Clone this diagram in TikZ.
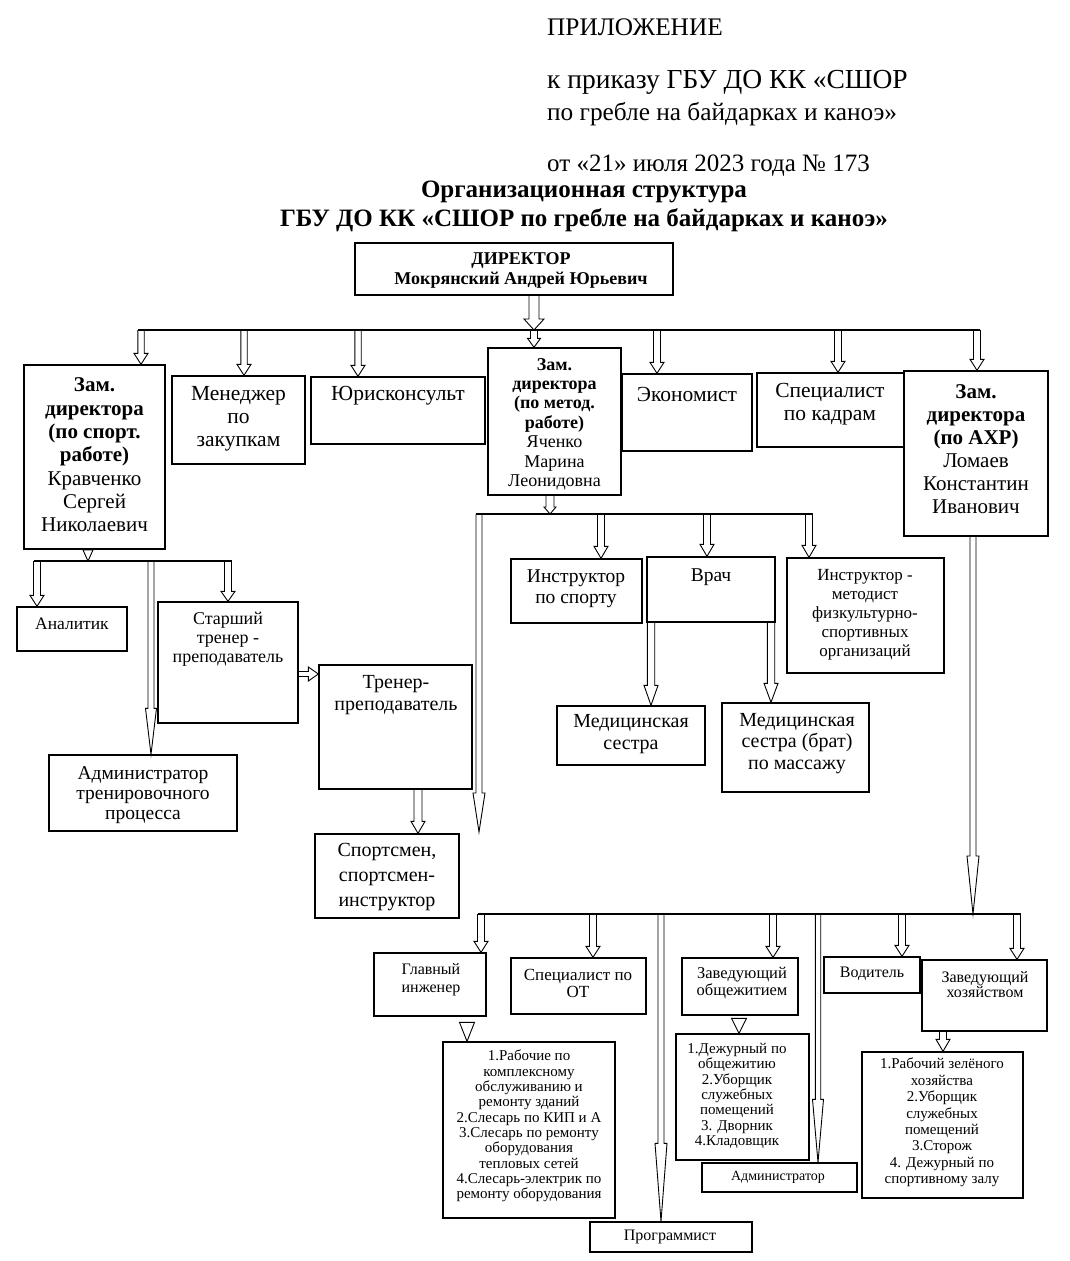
\documentclass[tikz,border=0pt]{standalone}
\usepackage{fontspec}
\setmainfont{Liberation Serif}
\usetikzlibrary{calc,fit}
\newcommand{\fsz}[2]{\fontsize{#1pt}{#2pt}\selectfont}
\tikzset{
  box/.style={draw, line width=1.3pt, inner sep=0pt},
  txt/.style={align=center, inner sep=0pt},
  arr/.style={draw, line width=0.9pt, line join=miter},
  bus/.style={draw, line width=1.1pt},
}
% box from corners
\newcommand{\mkbox}[5]{\path (#2,#3) coordinate (#1-a) (#4,#5) coordinate (#1-b);
  \node[box, fit=(#1-a)(#1-b)] (#1) {};}
% hollow block arrow downwards: start, end, shaft half, head length, head half
\newcommand{\darr}[5]{\path[arr] let \p1=(#1), \p2=(#2) in
  (\x1-#3,\y1) -- (\x1-#3,\y2+#4) -- (\x1-#5,\y2+#4) -- (\x1,\y2) --
  (\x1+#5,\y2+#4) -- (\x1+#3,\y2+#4) -- (\x1+#3,\y1);}
% hollow triangle pointing down: start (x), end (tip), height, half width
\newcommand{\tarr}[4]{\path[arr] let \p1=(#1), \p2=(#2) in
  (\x1-#4,\y2+#3) -- (\x1,\y2) -- (\x1+#4,\y2+#3) -- cycle;}
% hollow block arrow to the right
\newcommand{\rarr}[5]{\path[arr] let \p1=(#1), \p2=(#2) in
  (\x1,\y1+#3) -- (\x2-#4,\y1+#3) -- (\x2-#4,\y1+#5) -- (\x2,\y1) --
  (\x2-#4,\y1-#5) -- (\x2-#4,\y1-#3) -- (\x1,\y1-#3);}

\begin{document}
\begin{tikzpicture}[x=1pt,y=-1pt]
\fill[white] (0,0) rectangle (1069,1261);
\path[use as bounding box] (0,0) rectangle (1069,1261);

% ---------- header ----------
\node[txt, anchor=west, font=\fsz{25.3}{30}] (h1) at (547,27) {ПРИЛОЖЕНИЕ};
\node[txt, anchor=west, font=\fsz{27.5}{30}] (h2) at (547,82) {к приказу ГБУ ДО КК «СШОР};
\node[txt, anchor=west, font=\fsz{25.3}{30}] (h3) at (547,114) {по гребле на байдарках и каноэ»};
\node[txt, anchor=west, font=\fsz{25}{30}] (h4) at (547,166) {от «21» июля 2023 года № 173};
\node[txt, font=\bfseries\fsz{25}{28}] (t1) at (584,192) {Организационная структура};
\node[txt, font=\bfseries\fsz{25}{28}] (t2) at (584,220) {ГБУ ДО КК «СШОР по гребле на байдарках и каноэ»};

% ---------- boxes ----------
\mkbox{dir}{355}{243}{673}{295}
\mkbox{zs}{24}{365}{165}{549}
\mkbox{mz}{172}{376}{305}{464}
\mkbox{jur}{311}{377}{485}{444}
\mkbox{zm}{488}{348}{621}{495}
\mkbox{eco}{622}{374}{752}{451}
\mkbox{kad}{757}{373}{904}{447}
\mkbox{zx}{904}{371}{1048}{536}
\mkbox{an}{17}{607}{127}{651}
\mkbox{st}{158}{602}{298}{723}
\mkbox{adm}{49}{755}{237}{831}
\mkbox{tp}{319}{665}{472}{789}
\mkbox{sp}{315}{834}{459}{918}
\mkbox{is}{511}{559}{642}{623}
\mkbox{vr}{647}{557}{775}{622}
\mkbox{im}{787}{558}{944}{673}
\mkbox{ms}{557}{706}{705}{765}
\mkbox{mb}{722}{703}{869}{792}
\mkbox{gi}{374}{953}{486}{1016}
\mkbox{ot}{511}{958}{646}{1014}
\mkbox{zo}{682}{958}{798}{1015}
\mkbox{vo}{824}{957}{920}{993}
\mkbox{zh}{922}{960}{1047}{1031}
\mkbox{l1}{443}{1042}{615}{1218}
\mkbox{l2}{676}{1034}{809}{1160}
\mkbox{l3}{862}{1052}{1023}{1198}
\mkbox{ad2}{702}{1163}{857}{1192}
\mkbox{pr}{590}{1222}{752}{1252}

% ---------- texts ----------
\node[txt, font=\bfseries\fsz{18}{20}] (dirt) at (521,270) {ДИРЕКТОР\\Мокрянский Андрей Юрьевич};
\node[txt, font=\fsz{21}{23.3}] (zst) at (94.5,455) {\textbf{Зам.}\\\textbf{директора}\\\textbf{(по спорт.}\\\textbf{работе)}\\Кравченко\\Сергей\\Николаевич};
\node[txt, font=\fsz{21.5}{23}] (mzt) at (238.5,419) {Менеджер\\по\\закупкам};
\node[txt, font=\fsz{21.5}{23}] (jurt) at (398,396) {Юрисконсульт};
\node[txt, font=\fsz{18}{19.4}] (zmt) at (554.5,424) {\textbf{Зам.}\\\textbf{директора}\\\textbf{(по метод.}\\\textbf{работе)}\\Яченко\\Марина\\Леонидовна};
\node[txt, font=\fsz{21.5}{23}] (ecot) at (687,394) {Экономист};
\node[txt, font=\fsz{21.5}{23}] (kadt) at (830,404.5) {Специалист\\по кадрам};
\node[txt, font=\fsz{21}{23}] (zxt) at (976,449.5) {\textbf{Зам.}\\\textbf{директора}\\\textbf{(по АХР)}\\Ломаев\\Константин\\Иванович};
\node[txt, font=\fsz{17.5}{19}] (ant) at (72,624) {Аналитик};
\node[txt, font=\fsz{18}{19}] (stt) at (228,639) {Старший\\тренер -\\преподаватель};
\node[txt, font=\fsz{19.5}{20}] (admt) at (143,795) {Администратор\\тренировочного\\процесса};
\node[txt, font=\fsz{20}{22}] (tpt) at (396,695) {Тренер-\\преподаватель};
\node[txt, font=\fsz{20}{25}] (spt) at (387,877) {Спортсмен,\\спортсмен-\\инструктор};
\node[txt, font=\fsz{19.5}{21}] (ist) at (576,588.5) {Инструктор\\по спорту};
\node[txt, font=\fsz{19.5}{21}] (vrt) at (711,577) {Врач};
\node[txt, font=\fsz{17}{19}] (imt) at (865,615) {Инструктор -\\методист\\физкультурно-\\спортивных\\организаций};
\node[txt, font=\fsz{20}{22}] (mst) at (631,734) {Медицинская\\сестра};
\node[txt, font=\fsz{20}{21.5}] (mbt) at (797,743.5) {Медицинская\\сестра (брат)\\по массажу};
\node[txt, font=\fsz{16}{18}] (git) at (431,980) {Главный\\инженер};
\node[txt, font=\fsz{17}{17}] (ott) at (578,983.5) {Специалист по\\ОТ};
\node[txt, font=\fsz{16.5}{17}] (zot) at (742,983.5) {Заведующий\\общежитием};
\node[txt, font=\fsz{16}{17}] (vot) at (872,974) {Водитель};
\node[txt, font=\fsz{16}{15}] (zht) at (985,984.5) {Заведующий\\хозяйством};
\node[txt, font=\fsz{15}{15.33}] (l1t) at (529,1126) {1.Рабочие по\\комплексному\\обслуживанию и\\ремонту зданий\\2.Слесарь по КИП и А\\3.Слесарь по ремонту\\оборудования\\тепловых сетей\\4.Слесарь-электрик по\\ремонту оборудования};
\node[txt, font=\fsz{15}{15.3}] (l2t) at (737,1096) {1.Дежурный по\\общежитию\\2.Уборщик\\служебных\\помещений\\3. Дворник\\4.Кладовщик};
\node[txt, font=\fsz{15}{16.4}] (l3t) at (942,1122.5) {1.Рабочий зелёного\\хозяйства\\2.Уборщик\\служебных\\помещений\\3.Сторож\\4. Дежурный по\\спортивному залу};
\node[txt, font=\fsz{14}{16}] (ad2t) at (778,1177) {Администратор};
\node[txt, font=\fsz{16}{18}] (prt) at (670,1237) {Программист};

% ---------- bus lines and junctions ----------
\coordinate (b1l) at (137.8,330); \coordinate (b1r) at (980.2,330);
\coordinate (j1a) at (141,330); \coordinate (j1b) at (244,330);
\coordinate (j1c) at (358,330); \coordinate (j1d) at (534,330);
\coordinate (j1e) at (657,330); \coordinate (j1f) at (838,330);
\coordinate (j1g) at (977,330);
\draw[bus] (b1l) -- (b1r);

\coordinate (b2l) at (33.5,561); \coordinate (b2r) at (231.5,561);
\coordinate (j2a) at (37,561); \coordinate (j2b) at (151,561);
\coordinate (j2c) at (228,561); \coordinate (j2m) at (88,561);
\draw[bus] (b2l) -- (b2r);

\coordinate (b3l) at (476,514); \coordinate (b3r) at (812.5,514);
\coordinate (j3a) at (479,514); \coordinate (j3b) at (601,514);
\coordinate (j3c) at (707,514); \coordinate (j3d) at (809,514);
\coordinate (j3m) at (550,514); \coordinate (e3a) at (479,832);
\draw[bus] (b3l) -- (b3r);

\coordinate (b4l) at (477.5,914); \coordinate (b4r) at (1020.5,914);
\coordinate (j4a) at (481,914); \coordinate (j4b) at (593,914);
\coordinate (j4c) at (661,914); \coordinate (j4d) at (773,914);
\coordinate (j4e) at (818,914); \coordinate (j4f) at (902,914);
\coordinate (j4g) at (1017,914); \coordinate (j4m) at (973,914);
\draw[bus] (b4l) -- (b4r);

% ---------- arrows ----------
\darr{[xshift=20pt]dir.south}{j1d}{5pt}{11pt}{10pt}
\darr{j1a}{zs.north}{3.2pt}{11pt}{7pt}
\darr{j1b}{mz.north}{3.2pt}{11pt}{7pt}
\darr{j1c}{jur.north}{3.2pt}{11pt}{7pt}
\darr{j1d}{zm.north}{3.5pt}{9pt}{6.5pt}
\darr{j1e}{eco.north}{3.5pt}{11pt}{7pt}
\darr{j1f}{kad.north}{3.5pt}{11pt}{7pt}
\darr{j1g}{zx.north}{3.5pt}{11pt}{7pt}

\tarr{[xshift=-6.5pt]zs.south}{j2m}{11pt}{5pt}
\darr{j2a}{an.north}{3.5pt}{11pt}{7pt}
\darr{j2b}{adm.north}{3pt}{46pt}{5.5pt}
\darr{j2c}{st.north}{3.5pt}{10pt}{7pt}
\rarr{[yshift=-11.5pt]st.east}{tp.west}{2.5pt}{10pt}{7pt}
\darr{[xshift=22.5pt]tp.south}{sp.north}{4pt}{12pt}{7pt}

\darr{[xshift=-4.5pt]zm.south}{j3m}{4pt}{7pt}{6pt}
\darr{j3a}{e3a}{3pt}{39pt}{6pt}
\darr{j3b}{is.north}{3.5pt}{12pt}{7pt}
\darr{j3c}{vr.north}{3.5pt}{12pt}{7pt}
\darr{j3d}{im.north}{3.5pt}{12pt}{7pt}
\darr{[xshift=-60pt]vr.south}{ms.north}{3.7pt}{20pt}{7pt}
\darr{[xshift=60pt]vr.south}{mb.north}{3.7pt}{19pt}{7pt}

\darr{[xshift=-3pt]zx.south}{j4m}{3pt}{58pt}{6pt}
\darr{j4a}{gi.north}{3.5pt}{11pt}{7pt}
\darr{j4b}{ot.north}{3.5pt}{11pt}{7pt}
\darr{j4c}{pr.north}{3pt}{78pt}{6pt}
\darr{j4d}{zo.north}{3.5pt}{11pt}{7pt}
\darr{j4e}{ad2.north}{2.7pt}{63pt}{5.5pt}
\darr{j4f}{vo.north}{3.5pt}{11pt}{7pt}
\darr{j4g}{zh.north}{3.5pt}{11pt}{7pt}
\tarr{[xshift=37pt]gi.south}{l1.north}{19pt}{7.5pt}
\tarr{[xshift=-1pt]zo.south}{l2.north}{15pt}{7.5pt}
\darr{[xshift=-41.5pt]zh.south}{l3.north}{3.5pt}{12pt}{7pt}
\end{tikzpicture}
\end{document}
